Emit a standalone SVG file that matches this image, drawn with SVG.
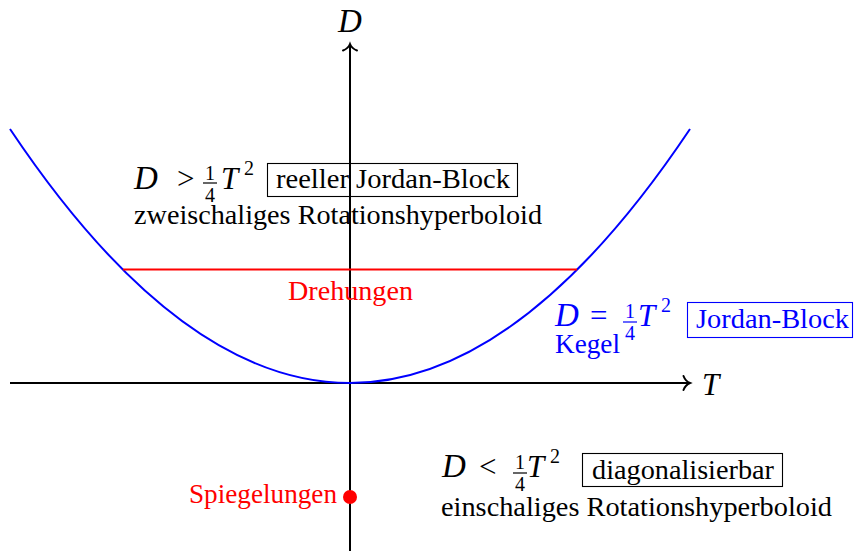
<svg xmlns="http://www.w3.org/2000/svg" width="855" height="551" viewBox="0 0 855 551">
<style>
text { font-family: "Liberation Serif", "Times New Roman", serif; font-size: 27px; fill: #000; }
.m { font-size: 31px; font-style: italic; }
.d { font-size: 33px; font-style: italic; }
.mr { font-size: 31px; }
.s { font-size: 20px; }
.red text { fill: #ff0000; }
.blue text { fill: #0000ff; }
.axis { stroke: #000; stroke-width: 2; fill: none; }
.box { fill: none; stroke: #000; stroke-width: 1.1; }
.bar { stroke-width: 1.2; }
</style>
<defs>
<path id="arr" d="M-6.5,-7 C-5,-3 -2,-0.8 0,0 C-2,0.8 -5,3 -6.5,7" fill="none" stroke="#000" stroke-width="2" stroke-linecap="round"/>
</defs>
<g id="connectors">
<line class="axis" x1="10" y1="383" x2="689" y2="383"/>
<use href="#arr" transform="translate(690,383)"/>
<line class="axis" x1="350" y1="551" x2="350" y2="45"/>
<use href="#arr" transform="translate(350,44) rotate(-90)"/>
<path id="parabola" d="M10,129 Q350,637 690,129" fill="none" stroke="#0000ff" stroke-width="2"/>
<line id="drehline" x1="123" y1="269.5" x2="577" y2="269.5" stroke="#ff0000" stroke-width="2"/>
</g>
<g id="axis-labels">
<text class="d" x="338" y="32">D</text>
<text class="m" x="702" y="395">T</text>
</g>
<g id="upper">
<text class="d" x="134" y="189">D</text>
<text class="mr" x="177" y="189">&gt;</text>
<text class="s" x="205" y="180">1</text>
<line class="bar" x1="203" y1="183" x2="217" y2="183" stroke="#000"/>
<text class="s" x="205" y="202">4</text>
<text class="m" x="221" y="189">T</text>
<text class="s" x="244" y="175">2</text>
<rect class="box" x="267.5" y="163.5" width="250" height="33"/>
<text x="276" y="188" textLength="234" lengthAdjust="spacingAndGlyphs">reeller Jordan-Block</text>
<text x="134" y="224" textLength="408" lengthAdjust="spacingAndGlyphs">zweischaliges Rotationshyperboloid</text>
</g>
<g id="drehungen" class="red">
<text x="288" y="300" textLength="125" lengthAdjust="spacingAndGlyphs">Drehungen</text>
</g>
<g id="kegel" class="blue">
<text class="d" x="555" y="326">D</text>
<text class="mr" x="590" y="326">=</text>
<text class="s" x="625" y="318">1</text>
<line class="bar" x1="623" y1="322" x2="637" y2="322" stroke="#0000ff"/>
<text class="s" x="625" y="340">4</text>
<text class="m" x="638" y="326">T</text>
<text class="s" x="661" y="312">2</text>
<text x="555" y="353" textLength="65" lengthAdjust="spacingAndGlyphs">Kegel</text>
<rect x="687.5" y="302.5" width="165" height="35" fill="none" stroke="#0000ff" stroke-width="1.1"/>
<text x="696" y="328" textLength="153" lengthAdjust="spacingAndGlyphs">Jordan-Block</text>
</g>
<g id="lower">
<text class="d" x="442" y="477">D</text>
<text class="mr" x="479" y="477">&lt;</text>
<text class="s" x="515" y="469">1</text>
<line class="bar" x1="513" y1="473" x2="527" y2="473" stroke="#000"/>
<text class="s" x="515" y="491">4</text>
<text class="m" x="527" y="477">T</text>
<text class="s" x="550" y="463">2</text>
<rect class="box" x="582.5" y="453.5" width="200" height="33"/>
<text x="592" y="479" textLength="182" lengthAdjust="spacingAndGlyphs">diagonalisierbar</text>
<text x="441" y="516" textLength="391" lengthAdjust="spacingAndGlyphs">einschaliges Rotationshyperboloid</text>
</g>
<g id="spiegelungen" class="red">
<text x="189" y="503" textLength="148" lengthAdjust="spacingAndGlyphs">Spiegelungen</text>
<circle cx="350" cy="497" r="7" fill="#ff0000"/>
</g>
</svg>
